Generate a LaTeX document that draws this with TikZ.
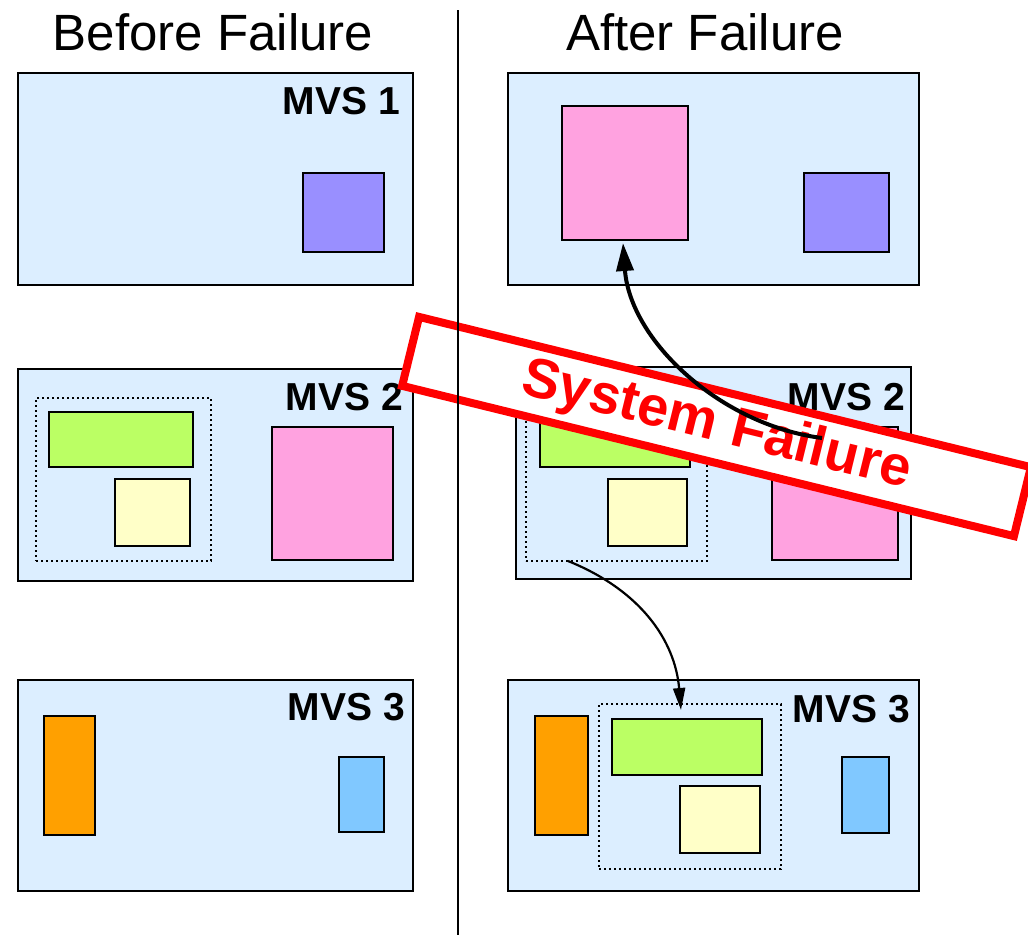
\documentclass[tikz,border=0pt]{standalone}
\usepackage{fontspec}
\setmainfont{Liberation Sans}
\usetikzlibrary{arrows.meta}
\definecolor{mvsbg}{RGB}{220,238,255}
\definecolor{cpurple}{RGB}{153,143,255}
\definecolor{cpink}{RGB}{255,162,224}
\definecolor{cgreen}{RGB}{187,255,100}
\definecolor{cyellow}{RGB}{255,255,200}
\definecolor{corange}{RGB}{255,160,0}
\definecolor{cblue}{RGB}{128,200,255}
\newcommand{\mkbox}[6]{%
  \pgfmathsetmacro{\mkbcx}{(#3+#5)/2}%
  \pgfmathsetmacro{\mkbcy}{(#4+#6)/2}%
  \pgfmathsetmacro{\mkbw}{#5-#3}%
  \pgfmathsetmacro{\mkbh}{#6-#4}%
  \node[#2, minimum width=\mkbw pt, minimum height=\mkbh pt, inner sep=0pt, outer sep=0pt] (#1) at (\mkbcx,\mkbcy) {};}
\begin{document}
\begin{tikzpicture}[x=1pt,y=-1pt,
  mvs/.style={draw=black, line width=2.8pt, fill=mvsbg},
  item/.style={draw=black, line width=2.8pt},
  grp/.style={draw=black, line width=2.3pt, dash pattern=on 2.4pt off 2.6pt},
  lbl/.style={font=\fontsize{39}{44}\selectfont\bfseries, anchor=base east, inner sep=0pt},
  ttl/.style={font=\fontsize{51}{58}\selectfont, anchor=base, inner sep=0pt},
  conn/.style={draw=black}]
\useasboundingbox (0,0) rectangle (1028,935);
% titles
\node[ttl] (t1) at (213,50) {Before Failure};
\node[ttl] (t2) at (705,50) {After Failure};
% ---------- left column ----------
\mkbox{l1}{mvs}{18}{73}{413}{285}
\node[lbl] (l1lab) at (400,114) {MVS 1};
\mkbox{l1p}{item, fill=cpurple}{303}{173}{384}{252}
\mkbox{l2}{mvs}{18}{369}{413}{581}
\node[lbl] (l2lab) at (403,410) {MVS 2};
\mkbox{l2g}{grp}{36}{398}{211}{561}
\mkbox{l2gr}{item, fill=cgreen}{49}{412}{193}{467}
\mkbox{l2y}{item, fill=cyellow}{115}{479}{190}{546}
\mkbox{l2pk}{item, fill=cpink}{272}{427}{393}{560}
\mkbox{l3}{mvs}{18}{680}{413}{891}
\node[lbl] (l3lab) at (405,720) {MVS 3};
\mkbox{l3o}{item, fill=corange}{44}{716}{95}{835}
\mkbox{l3b}{item, fill=cblue}{339}{757}{384}{832}
% ---------- right column ----------
\mkbox{r1}{mvs}{508}{73}{919}{285}
\mkbox{r1pk}{item, fill=cpink}{562}{106}{688}{240}
\mkbox{r1p}{item, fill=cpurple}{804}{173}{889}{252}
\mkbox{r2}{mvs}{516}{367}{911}{579}
\node[lbl] (r2lab) at (905,410) {MVS 2};
\mkbox{r2g}{grp}{526}{397}{707}{561}
\mkbox{r2gr}{item, fill=cgreen}{540}{412}{690}{467}
\mkbox{r2y}{item, fill=cyellow}{608}{479}{687}{546}
\mkbox{r2pk}{item, fill=cpink}{772}{427}{898}{560}
\mkbox{r3}{mvs}{508}{680}{919}{891}
\node[lbl] (r3lab) at (910,722) {MVS 3};
\mkbox{r3o}{item, fill=corange}{535}{716}{588}{835}
\mkbox{r3g}{grp}{599}{704}{781}{869}
\mkbox{r3gr}{item, fill=cgreen}{612}{719}{762}{775}
\mkbox{r3y}{item, fill=cyellow}{680}{786}{760}{853}
\mkbox{r3b}{item, fill=cblue}{842}{757}{889}{833}
% lower migration arrow
\draw[conn, line width=2.2pt, -{Triangle[length=22pt,width=12pt]}]
  ([xshift=-48.5pt]r2g.south) .. controls (640,590) and (675,640) .. ([xshift=-9pt,yshift=-6pt]r3g.north);
% banner
\node[draw=red, line width=8pt, fill=white, rotate=-13.8, minimum width=630pt, minimum height=71pt,
  inner sep=0pt, text=red, font=\fontsize{56}{60}\selectfont\bfseries] (banner) at (716.5,426.5) {System Failure};
% divider
\coordinate (dtop) at (458,10);
\coordinate (dbot) at (458,935);
\draw[line width=2pt] (dtop) -- (dbot);
% restart arrow
\coordinate (fs) at (822,438);
\draw[conn, line width=4pt, -{Triangle[length=28pt,width=17pt]}]
  (fs) .. controls (720,425) and (630,340) .. ([xshift=-2pt,yshift=-3pt]r1pk.south);
\end{tikzpicture}
\end{document}
